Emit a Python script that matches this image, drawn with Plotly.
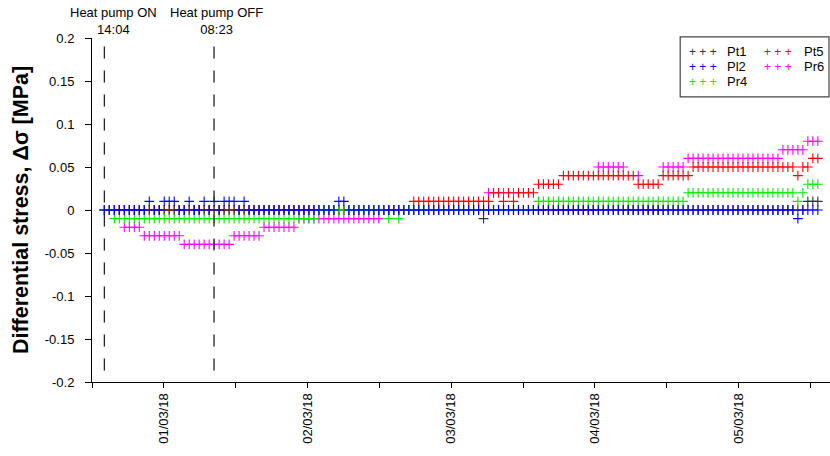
import numpy as np
import pandas as pd
import plotly.graph_objects as go

# ---------------- data ----------------
START = "2018-02-28 14:04"
STEP = "50min"
N_SAMPLES = 144

# run-length encoded readings (value, number of consecutive samples)
PT1_VALUES = [0.0, -0.01, 0.0, 0.01]
PT1_COUNTS = [76, 1, 64, 3]

PL2_VALUES = [0.0, 0.01, 0.0, 0.01, 0.0, 0.01, 0.0, 0.01, 0.0, 0.01, 0.0, 0.01, 0.0, 0.01, 0.0, 0.01, 0.0, -0.01, 0.0]
PL2_COUNTS = [9, 1, 2, 3, 2, 1, 2, 1, 1, 1, 1, 3, 1, 1, 18, 2, 90, 1, 4]

PR4_VALUES = [0.0, -0.01, 0.0, -0.01, 0.0, -0.01, 0.0, 0.01, 0.02, 0.01, 0.02, 0.03]
PR4_COUNTS = [2, 41, 14, 1, 1, 1, 27, 30, 22, 1, 1, 3]

PT5_VALUES = [0.0, 0.01, 0.02, 0.01, 0.02, 0.01, 0.02, 0.03, 0.04, 0.03, 0.04, 0.05, 0.04, 0.05, 0.06]
PT5_COUNTS = [62, 16, 2, 1, 1, 1, 4, 5, 15, 5, 6, 21, 1, 2, 2]

PR6_VALUES = [0.0, -0.02, -0.03, -0.04, -0.03, -0.02, -0.01, 0.0, 0.02, 0.0, 0.02, 0.0, 0.02, 0.0,
              0.05, 0.0, 0.04, 0.0, 0.05, 0.06, 0.07, 0.08]
PR6_COUNTS = [4, 4, 8, 10, 6, 7, 17, 21, 2, 1, 1, 1, 1, 16, 6, 2, 1, 4, 5, 19, 5, 3]

SERIES_NAMES = ["Pt1", "Pl2", "Pr4", "Pt5", "Pr6"]
SERIES_COLORS = ["#333333", "#0000FF", "#00EE00", "#FF0000", "#FF00FF"]

HEAT_ON = "2018-02-28 14:04"
HEAT_OFF = "2018-03-01 08:23"
EVENT_LABELS = ["Heat pump ON<br>14:04", "Heat pump OFF<br>08:23"]

Y_TICKS = [0.2, 0.15, 0.1, 0.05, 0, -0.05, -0.1, -0.15, -0.2]
Y_TICK_TEXT = ["0.2", "0.15", "0.1", "0.05", "0", "-0.05", "-0.1", "-0.15", "-0.2"]

X_RANGE = ["2018-02-28 12:00", "2018-03-05 15:16"]
Y_RANGE = [-0.2, 0.2]


def decode(values, counts):
    return np.repeat(values, counts)


times = pd.date_range(START, periods=N_SAMPLES, freq=STEP)
series = {
    "Pt1": decode(PT1_VALUES, PT1_COUNTS),
    "Pl2": decode(PL2_VALUES, PL2_COUNTS),
    "Pr4": decode(PR4_VALUES, PR4_COUNTS),
    "Pt5": decode(PT5_VALUES, PT5_COUNTS),
    "Pr6": decode(PR6_VALUES, PR6_COUNTS),
}
colors = dict(zip(SERIES_NAMES, SERIES_COLORS))

FONT = "Liberation Sans, Arial, sans-serif"

fig = go.Figure()
# drawing order (bottom to top)
for name in ["Pr6", "Pt5", "Pt1", "Pr4", "Pl2"]:
    fig.add_trace(go.Scatter(
        x=times, y=series[name], mode="markers", name=name, showlegend=False,
        marker=dict(symbol="cross-thin", size=7,
                    line=dict(width=1.1, color=colors[name]), color=colors[name]),
    ))

# event lines and labels
for t, label, xs in zip([HEAT_ON, HEAT_OFF], EVENT_LABELS, [9, 2]):
    fig.add_shape(type="line", xref="x", yref="y", x0=t, x1=t, y0=0.19, y1=Y_RANGE[0],
                  line=dict(color="#222222", width=1.3, dash="12px,12px"))
    fig.add_annotation(x=t, xref="x", y=1, yref="paper", yanchor="bottom", xanchor="center",
                       text=label, showarrow=False, xshift=xs, yshift=-1,
                       font=dict(family=FONT, size=13, color="black"))

# legend (two columns, drawn as boxed annotation entries)
fig.add_shape(type="rect", xref="paper", yref="paper", x0=0.797, x1=0.9986, y0=0.829, y1=1.003,
              line=dict(color="#444444", width=1.2), fillcolor="white", layer="above")
legend_cols = [["Pt1", "Pl2", "Pr4"], ["Pt5", "Pr6"]]
col_sym_x = [0.806, 0.9085]
col_txt_x = [0.8577, 0.962]
row_y = [0.9602, 0.9166, 0.8730]
for ci, col in enumerate(legend_cols):
    for ri, name in enumerate(col):
        fig.add_annotation(x=col_sym_x[ci], y=row_y[ri], xref="paper", yref="paper",
                           xanchor="left", yanchor="middle", showarrow=False,
                           text="+ + +", font=dict(family=FONT, size=12, color=colors[name]))
        fig.add_annotation(x=col_txt_x[ci], y=row_y[ri], xref="paper", yref="paper",
                           xanchor="left", yanchor="middle", showarrow=False,
                           text=name, font=dict(family=FONT, size=13, color="black"))

fig.update_layout(
    width=830, height=456,
    margin=dict(l=92, r=0, t=38, b=74),
    plot_bgcolor="white", paper_bgcolor="white",
    font=dict(family=FONT, size=13, color="black"),
    showlegend=False,
)
fig.update_xaxes(
    type="date", range=X_RANGE, showgrid=False, zeroline=False,
    showline=True, linecolor="black", linewidth=1,
    ticks="outside", ticklen=5, tickcolor="black",
    dtick=86400000, tick0="2018-03-01", tickformat="%d/%m/%y", tickangle=-90,
    tickfont=dict(family=FONT, size=13),
    minor=dict(dtick=43200000, tick0="2018-02-28 12:00", ticks="outside", ticklen=5,
               tickcolor="black", showgrid=False),
)
fig.update_yaxes(
    range=Y_RANGE, showgrid=False, zeroline=False,
    showline=True, linecolor="black", linewidth=1,
    ticks="outside", ticklen=6, tickcolor="black",
    tickvals=Y_TICKS, ticktext=Y_TICK_TEXT, ticklabelstandoff=8,
    tickfont=dict(family=FONT, size=13),
    title=dict(text="<b>Differential stress, Δσ [MPa]</b>", standoff=10,
               font=dict(family=FONT, size=21.5, color="black")),
)

# remove the default page margin so the 830x456 figure fills the window exactly
fig.write_html("out.html",
               config={"displayModeBar": False},
               post_script="document.body.style.margin='0';document.body.style.overflow='hidden';")
